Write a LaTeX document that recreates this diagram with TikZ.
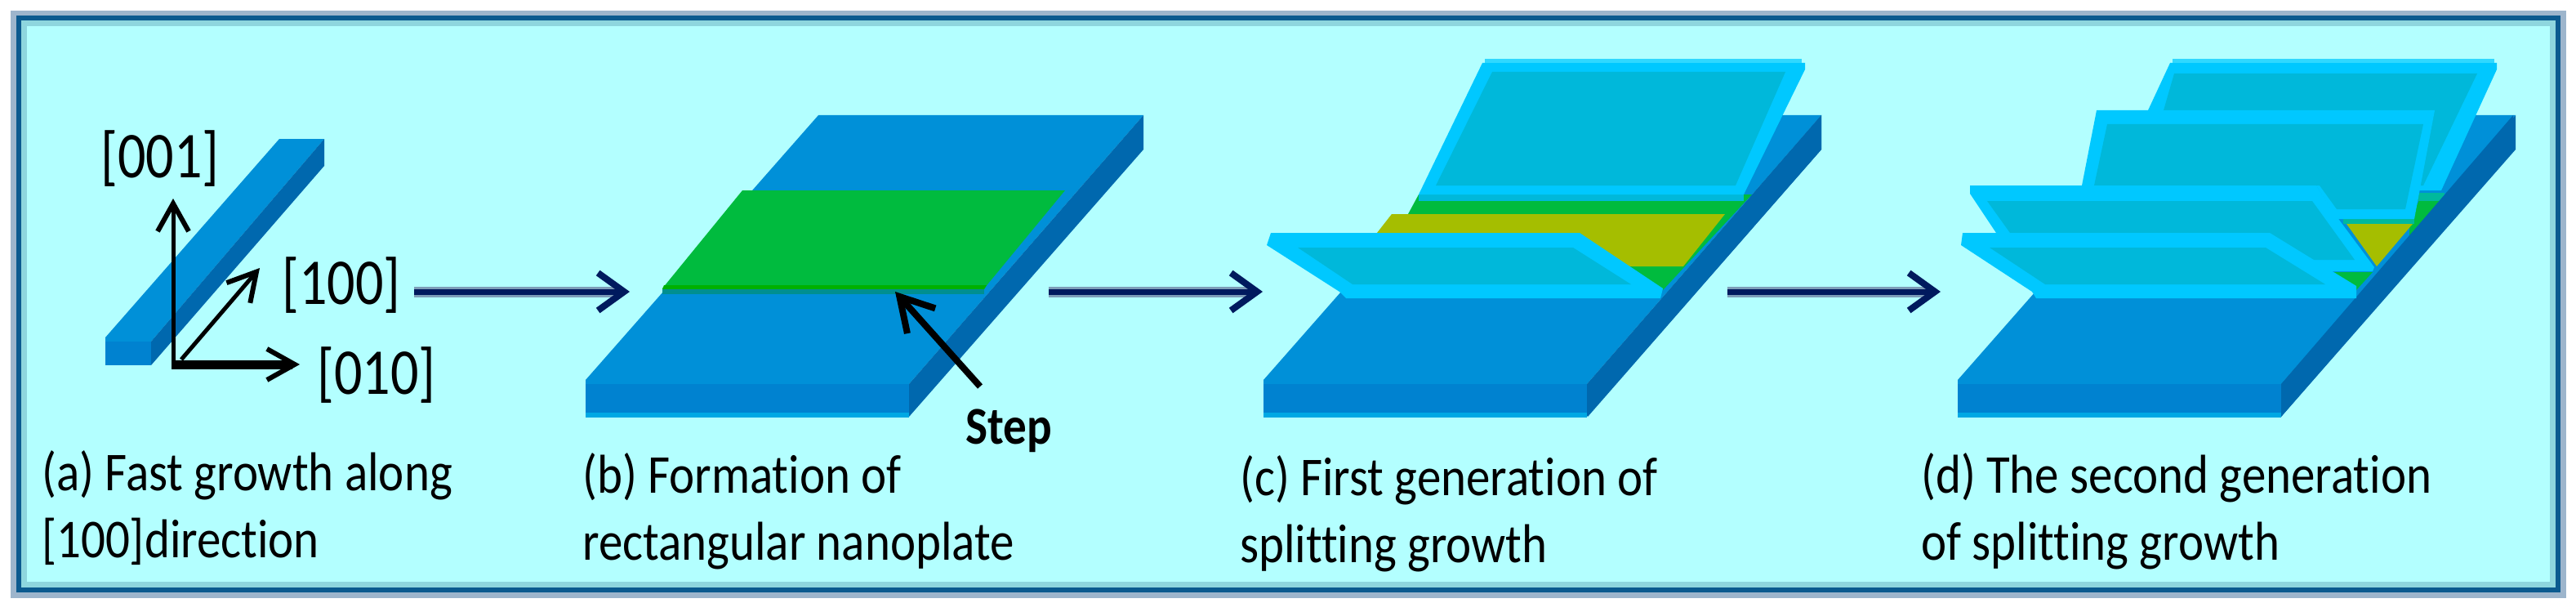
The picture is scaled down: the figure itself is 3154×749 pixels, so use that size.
\documentclass[tikz,border=0pt]{standalone}
\usepackage{fontspec}
\setmainfont[Ligatures=NoCommon,FakeStretch=0.88]{Carlito}
\newfontfamily\axisfont[Ligatures=NoCommon,FakeStretch=0.85]{Carlito}
\usetikzlibrary{arrows.meta,calc}
\definecolor{bgc}{HTML}{B3FFFF}
\definecolor{topc}{HTML}{0090D8}
\definecolor{frontc}{HTML}{0082D0}
\definecolor{sidec}{HTML}{0068AE}
\definecolor{edgec}{HTML}{00A8E4}
\definecolor{cyanc}{HTML}{00C8FF}
\definecolor{hilitec}{HTML}{30D8FF}
\definecolor{tealc}{HTML}{00B8DA}
\definecolor{greenc}{HTML}{00BB3E}
\definecolor{dgreenc}{HTML}{00B000}
\definecolor{stepc}{HTML}{008F90}
\definecolor{olivec}{HTML}{A5BE00}
\definecolor{navyc}{HTML}{001A5E}
\definecolor{haloc}{HTML}{7D9DB8}
\definecolor{framec}{HTML}{0B5A8F}
\definecolor{frameo}{HTML}{9DB5CC}
\definecolor{framei}{HTML}{8ED6DE}
\newcommand{\slab}[1]{%
 \begin{scope}[xshift=#1pt]
  \fill[topc] (717,465)--(1002,141)--(1400,141)--(1113,470)--(717,470)--cycle;
  \fill[frontc] (717,470) rectangle (1113,510);
  \fill[edgec] (717,505) rectangle (1113,511);
  \fill[sidec] (1400,141)--(1400,183)--(1113,510)--(1113,470)--cycle;
 \end{scope}}
\tikzset{
 x=1pt,y=-1pt,
 lab/.style={inner sep=0pt,anchor=base west,font=\fontsize{67}{82}\selectfont,align=left},
 axl/.style={inner sep=0pt,anchor=base west,font=\axisfont\fontsize{80}{84}\selectfont},
 halo/.style={draw=haloc,line width=13pt},
 mainarrow/.style={draw=navyc,line width=7pt,-{Straight Barb[length=32pt,width=46pt,line width=8pt]}},
 axis/.style={draw=black,line width=#1,-{Straight Barb[length=34pt,width=38pt,line width=6pt]}},
 plate/.style={fill=cyanc},
 inner/.style={fill=tealc},
}
\begin{document}
\begin{tikzpicture}
\useasboundingbox (0,0) rectangle (3154,749);
% frame
\fill[white] (0,0) rectangle (3154,749);
\fill[bgc] (22,22) rectangle (3132,722);
\draw[draw=frameo,line width=19pt] (22.5,22.5) rectangle (3132,722);
\draw[draw=framei,line width=7pt] (29,29) rectangle (3125.5,715.5);
\draw[draw=framec,line width=6pt] (22.5,22.5) rectangle (3132,722);
% panel a rod
\fill[topc] (129,413)--(342,170)--(397,170)--(185,418)--(129,418)--cycle;
\fill[frontc] (129,418) rectangle (185,447);
\fill[sidec] (397,170)--(397,203)--(185,447)--(185,418)--cycle;
% axes
\coordinate (o1) at (212,449);
\coordinate (o2) at (210,446);
\coordinate (o3) at (222,440);
\coordinate (t001) at (212,243);
\coordinate (t010) at (367,446);
\coordinate (t100) at (318,328);
\draw[axis=5pt] (o1) -- (t001);
\draw[axis=5pt] (o3) -- (t100);
\draw[axis=11pt] (o2) -- (t010);
\node[axl] (n001) at (123,217) {[001]};
\node[axl] (n100) at (345,372) {[100]};
\node[axl] (n010) at (388,482) {[010]};
% panel b
\slab{0}
\fill[greenc] (909,233)--(1304,233)--(1205,353)--(811,353)--cycle;
\fill[dgreenc] (813,349)--(1208,349)--(1205,354)--(811,354)--cycle;
\fill[stepc] (811,354) rectangle (1205,360);
\coordinate (stepT) at (1200,473);
\coordinate (stepH) at (1096,357);
\draw[draw=black,line width=8pt,-{Straight Barb[length=40pt,width=46pt,line width=8pt]}] (stepT) -- (stepH);
\node[inner sep=0pt,anchor=base west,font=\fontsize{65}{68}\selectfont\bfseries] (step) at (1182,543) {Step};
% panel c
\slab{830}
\fill[greenc] (1724,262)--(1737,238)--(2145,238)--(2036,355)--(1934,285)--(1724,285)--cycle;
\fill[sidec] (2230,141)--(2230,183)--(1944,510)--(1944,470)--cycle;
\fill[olivec] (1704,262)--(2112,262)--(2061,326)--(1990,326)--(1934,285)--(1686,285)--cycle;
\fill[tealc] (1737,238) rectangle (2135,246);
\fill[plate] (1815,77)--(2210,77)--(2210,85)--(2135,238)--(1737,238)--cycle;
\fill[hilitec] (1818,72) rectangle (2206,77);
\fill[inner] (1827,88)--(2186,88)--(2125,227)--(1758,227)--cycle;
\fill[plate] (1556,285)--(1934,285)--(2036,353)--(2033,365)--(1648,365)--(1640,357)--(1551,300)--cycle;
\fill[inner] (1589,303)--(1926,303)--(1997,348)--(1656,348)--cycle;
% panel d
\slab{1680}
\fill[greenc] (2962,245)--(2990,245)--(2950,290)--(2950,270)--cycle;
\fill[tealc!60!greenc] (2960,236) rectangle (2993,246);
\fill[tealc!60!greenc] (2869,268) rectangle (2956,274);
\fill[olivec] (2873,274)--(2954,274)--(2910,326)--cycle;
\fill[greenc] (2856,333)--(2905,333)--(2885,355)--cycle;
\fill[sidec] (3077,141)--(3077,183)--(2793,510)--(2793,470)--cycle;
\fill[plate] (2657,77)--(3057,77)--(3057,85)--(2989,233)--(2900,233)--(2630,135)--cycle;
\fill[hilitec] (2660,72) rectangle (3054,77);
\fill[inner] (2649,135)--(2662,90)--(3033,90)--(2967,227)--(2800,227)--(2649,150)--cycle;
\fill[plate] (2567,135)--(2981,135)--(2956,268)--(2861,268)--(2836,227)--(2549,227)--cycle;
\fill[inner] (2580,152)--(2967,152)--(2945,256)--(2861,256)--(2840,227)--(2564,227)--cycle;
\fill[plate] (2412,227)--(2836,227)--(2855,257)--(2907,327)--(2905,332)--(2856,332)--(2444,285)--(2412,237)--cycle;
\fill[inner] (2433,246)--(2831,246)--(2883,318)--(2800,318)--(2461,285)--cycle;
\fill[plate] (2403,285)--(2779,285)--(2885,350)--(2885,365)--(2493,365)--(2488,357)--(2401,300)--cycle;
\fill[inner] (2436,303)--(2774,303)--(2847,348)--(2504,348)--cycle;
% main arrows
\coordinate (a1s) at (507,357); \coordinate (a1e) at (771,357);
\coordinate (a2s) at (1284,357); \coordinate (a2e) at (1546,357);
\coordinate (a3s) at (2115,357); \coordinate (a3e) at (2376,357);
\foreach \p/\q in {a1s/a1e,a2s/a2e,a3s/a3e}{
 \draw[halo] (\p) -- ($(\q)+(-14,0)$);
 \draw[mainarrow] (\p) -- (\q);
}
% captions
\node[lab] (ca) at (51,682) {(a) Fast growth along\\{}[100]direction};
\node[lab] (cb) at (713,685) {(b) Formation of\\rectangular nanoplate};
\node[lab] (cc) at (1518,688) {(c) First generation of\\splitting growth};
\node[lab] (cd) at (2352,685) {(d) The second generation\\of splitting growth};
\end{tikzpicture}
\end{document}
